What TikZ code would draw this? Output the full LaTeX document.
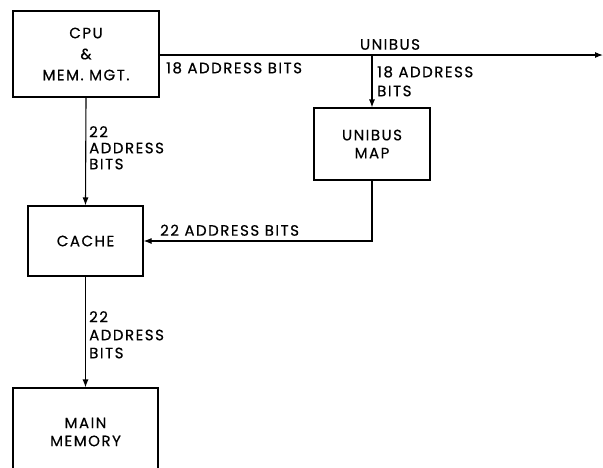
\documentclass[tikz,border=0pt]{standalone}
\usepackage{fontspec}
\setmainfont{Poppins}[LetterSpace=10,FakeBold=0.5]
\usetikzlibrary{arrows.meta}
\begin{document}
\begin{tikzpicture}[x=1pt,y=-1pt,
  blk/.style={draw, line width=1.1pt, align=center, inner sep=0pt, font=\fontsize{15}{21}\selectfont},
  lbl/.style={inner sep=0pt, align=left, font=\fontsize{15}{15.5}\selectfont},
  conn/.style={line width=1.1pt},
  arr/.style={conn, -{Latex[length=8pt,width=6pt]}}]
\clip (0,0) rectangle (603,467);
\useasboundingbox (0,0) rectangle (603,467);
\node[blk, minimum width=146pt, minimum height=86pt] (cpu) at (86,54) {CPU\\\&\\MEM. MGT.};
\node[blk, minimum width=116pt, minimum height=72pt, font=\fontsize{15}{18}\selectfont] (map) at (372,144) {UNIBUS\\MAP};
\node[blk, minimum width=115pt, minimum height=70pt] (cache) at (85.5,241) {CACHE};
\node[blk, minimum width=145pt, minimum height=88pt, font=\fontsize{15}{18}\selectfont] (mm) at (85.5,432) {MAIN\\MEMORY};
\coordinate (busend) at (603,55);
\draw[arr] (cpu.east |- busend) -- (busend);
\draw[arr] (map.north |- busend) -- (map.north);
\draw[arr] (cpu.south) -- (cache.north);
\draw[arr] (map.south) -- (map.south |- cache.east) -- (cache.east);
\draw[arr] (cache.south) -- (mm.north);
\node[lbl, anchor=south] (lunibus) at (390,50) {UNIBUS};
\node[lbl, anchor=north west] (l18a) at (166,62) {18 ADDRESS BITS};
\node[lbl, anchor=north west, font=\fontsize{15}{19}\selectfont] (l18b) at (377,66) {18 ADDRESS\\BITS};
\node[lbl, anchor=north west, font=\fontsize{15}{16}\selectfont] (l22a) at (89,126) {22\\ADDRESS\\BITS};
\node[lbl, anchor=south west] (l22b) at (160,236) {22 ADDRESS BITS};
\node[lbl, anchor=north west, font=\fontsize{15}{18}\selectfont] (l22c) at (89,311) {22\\ADDRESS\\BITS};
\end{tikzpicture}
\end{document}
